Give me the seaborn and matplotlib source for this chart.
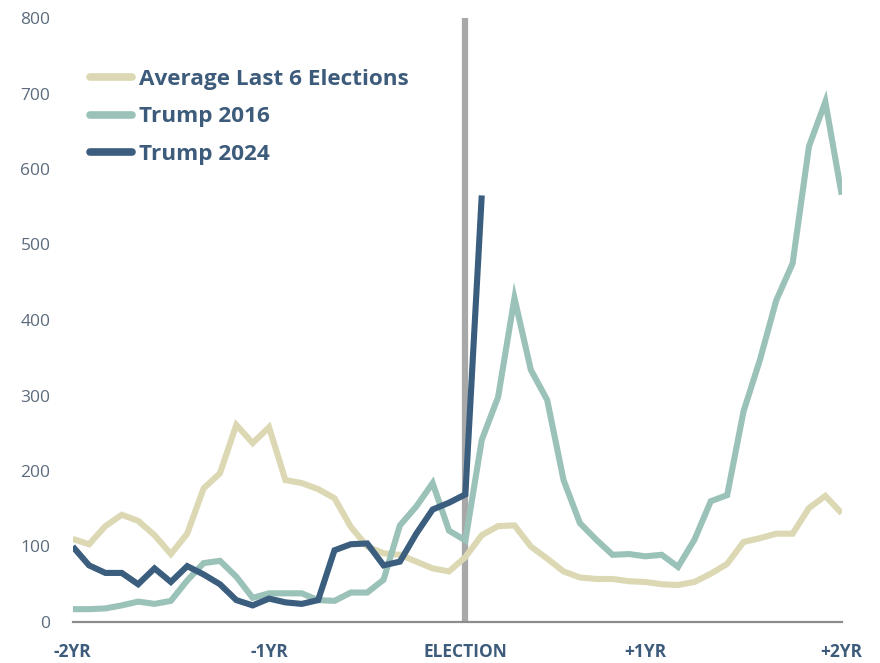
import matplotlib
matplotlib.use("Agg")
import matplotlib.pyplot as plt
import numpy as np
import pandas as pd
import seaborn as sns

# Months relative to election day
months_before = list(range(-24, 1))
months_after = list(range(1, 24))

avg_last6 = [110, 103, 127, 142, 134, 115, 90, 117, 177, 197, 261, 237, 258,
             188, 184, 176, 164, 126, 100, 91, 89, 80, 71, 67, 86,
             115, 127, 128, 100, 84, 67, 59, 57, 57, 54, 53, 50,
             49, 53, 64, 77, 106, 111, 117, 117, 151, 167, 144]

trump_2016 = [17, 17, 18, 22, 27, 24, 28, 55, 78, 81, 60, 32, 38,
              38, 38, 29, 28, 39, 39, 56, 128, 153, 184, 121, 108,
              241, 298, 429, 334, 294, 188, 131, 109, 89, 90, 87, 89,
              73, 109, 160, 168, 279, 347, 426, 475, 630, 689, 566]

trump_2024 = [100, 75, 65, 65, 50, 71, 53, 74, 63, 50, 29, 22, 31,
              26, 24, 29, 95, 103, 104, 75, 80, 117, 149, 158, 169,
              565]

series_names = ["Average Last 6 Elections", "Trump 2016", "Trump 2024"]
colors = ["#DCD8B3", "#9BC2B9", "#3B5E7F"]

x_tick_pos = [-24, -12, 0, 11, 23]
x_tick_labels = ["-2YR", "-1YR", "ELECTION", "+1YR", "+2YR"]
minor_ticks = [-24, -18, -12, -6, 0, 6, 12, 18]

all_months = months_before + months_after
frames = [
    pd.DataFrame({"month": all_months, "value": avg_last6, "series": series_names[0]}),
    pd.DataFrame({"month": all_months, "value": trump_2016, "series": series_names[1]}),
    pd.DataFrame({"month": all_months[:len(trump_2024)], "value": trump_2024,
                  "series": series_names[2]}),
]
df = pd.concat(frames, ignore_index=True)

sns.set_theme(style="white")
plt.rcParams["font.family"] = ["Open Sans", "DejaVu Sans"]

fig = plt.figure(figsize=(8.8, 6.63), dpi=100)
ax = fig.add_axes([72.7 / 880, 1 - 622 / 663, (841.7 - 72.7) / 880, (622 - 18) / 663])

# election marker
ax.axvline(0, color="#A8A8A8", lw=4.5, zorder=1, solid_capstyle="butt")

sns.lineplot(data=df, x="month", y="value", hue="series", hue_order=series_names,
             palette=colors, linewidth=4.4, ax=ax, zorder=3, legend=False,
             estimator=None, sort=True)
for ln in ax.lines[1:]:
    ln.set_solid_joinstyle("miter")
    ln.set_solid_capstyle("butt")

ax.set_xlim(-24, 23)
ax.set_ylim(0, 800)
ax.set_xlabel("")
ax.set_ylabel("")

for side in ["top", "right", "left"]:
    ax.spines[side].set_visible(False)
ax.spines["bottom"].set_color("#8C8C8C")
ax.spines["bottom"].set_linewidth(1.6)

ax.set_yticks(range(0, 801, 100))
ax.tick_params(axis="y", length=0, pad=16, labelsize=12.5, labelcolor="#5B6B7C")

ax.set_xticks(x_tick_pos)
ax.set_xticklabels(x_tick_labels, fontweight="bold", fontsize=12.5, color="#3D5B7A")
ax.set_xticks(minor_ticks, minor=True)
ax.tick_params(axis="x", which="major", length=0, pad=15)
ax.tick_params(axis="x", which="minor", length=5, width=1.6, color="#8C8C8C",
               direction="out")

handles = [plt.Line2D([], [], color=c, lw=5.5, solid_capstyle="round") for c in colors]
leg = ax.legend(handles, series_names, loc="upper left",
                bbox_to_anchor=(90 / 880, 1 - 69 / 663), bbox_transform=fig.transFigure,
                frameon=False, handlelength=1.85, handletextpad=0.33, labelspacing=0.73,
                borderpad=0, borderaxespad=0, prop={"weight": "bold", "size": 16.2})
for txt in leg.get_texts():
    txt.set_color("#3D5B7A")

fig.savefig("out.png", dpi=100, facecolor="white")
